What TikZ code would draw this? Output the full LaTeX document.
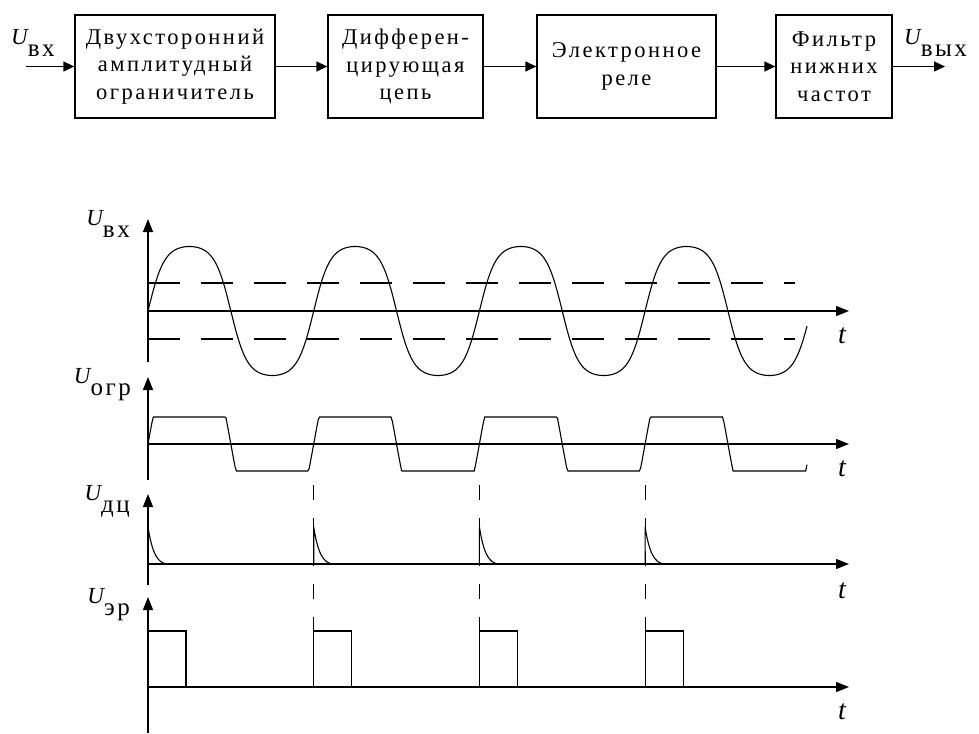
\documentclass[tikz,border=0pt]{standalone}
\usepackage{fontspec}
\setmainfont{Liberation Serif}
\newfontfamily\blkf[LetterSpace=11]{Liberation Serif}
\newfontfamily\subf[LetterSpace=10]{Liberation Serif}
\usetikzlibrary{arrows.meta}
\newcommand\Ulab[1]{{\fontsize{23}{23}\selectfont\itshape U}\raisebox{-12pt}{\subf\fontsize{25}{25}\selectfont #1}}
\begin{document}
\begin{tikzpicture}[x=1pt,y=-1pt,
  blockbox/.style={draw, line width=1.3pt, inner sep=0pt, align=center,
     font=\blkf\fontsize{22.5}{27.5}\selectfont},
  conn/.style={line width=1.3pt, -{Triangle[length=11pt,width=10pt]}},
  axis/.style={line width=1.3pt, -{Triangle[length=13pt,width=10pt]}},
  sig/.style={line width=1.1pt},
  hdash/.style={line width=1.1pt, dash pattern=on 32pt off 21pt},
  vdash/.style={line width=1.1pt, dash pattern=on 15pt off 18pt},
  tlab/.style={inner sep=0pt, font=\fontsize{28}{28}\selectfont\itshape},
  ulab/.style={inner sep=0pt},
  declare function={wv(\t)=tanh(1.5*sin((\t-148)*2.172601))/0.9051;}
]
\fill[white] (0,0) rectangle (979,733);
\useasboundingbox (0,0) rectangle (979,733);

% ---- block diagram ----
\node[blockbox, minimum width=200pt, minimum height=103pt] (b1) at (175,66.5) {Двухсторонний\\амплитудный\\ограничитель};
\node[blockbox, minimum width=155pt, minimum height=103pt] (b2) at (405.5,66.5) {Дифферен-\\цирующая\\цепь};
\node[blockbox, minimum width=179pt, minimum height=103pt] (b3) at (626.5,66.5) {Электронное\\реле};
\node[blockbox, minimum width=116pt, minimum height=103pt] (b4) at (834,66.5) {Фильтр\\нижних\\частот};
\coordinate (in) at (26,66.5);
\coordinate (out) at (945,66.5);
\draw[conn] (in) -- (b1.west);
\draw[conn] (b1.east) -- (b2.west);
\draw[conn] (b2.east) -- (b3.west);
\draw[conn] (b3.east) -- (b4.west);
\draw[conn] (b4.east) -- (out);
\node[ulab, anchor=base west] (lin) at (11,45) {\Ulab{вх}};
\node[ulab, anchor=base west] (lout) at (904,45) {\Ulab{вых}};

% ---- axes ----
\coordinate (o1) at (148,311); \coordinate (o2) at (148,444);
\coordinate (o3) at (148,564); \coordinate (o4) at (148,687);
\draw[axis] (148,362) -- (148,219);
\draw[axis] (148,480) -- (148,377);
\draw[axis] (148,585) -- (148,494);
\draw[axis] (148,733) -- (148,597);
\draw[axis] (o1) -- (849,311);
\draw[axis] (o2) -- (849,444);
\draw[axis] (o3) -- (849,564);
\draw[axis] (o4) -- (849,687);
\node[tlab] (t1) at (842,336) {t};
\node[tlab] (t2) at (842,469) {t};
\node[tlab] (t3) at (842,591) {t};
\node[tlab] (t4) at (842,712) {t};
\node[ulab, anchor=base east] (l1) at (130,225) {\Ulab{вх}};
\node[ulab, anchor=base east] (l2) at (131,383) {\Ulab{огр}};
\node[ulab, anchor=base east] (l3) at (130,500) {\Ulab{дц}};
\node[ulab, anchor=base east] (l4) at (130,603) {\Ulab{эр}};

% ---- graph 1 ----
\draw[hdash] (148,283) -- (795,283);
\draw[hdash] (148,339) -- (795,339);
\draw[sig] plot[domain=148:807, samples=500] (\x,{311-64.5*wv(\x)});

% ---- graph 2 ----
\draw[sig] plot[domain=148:807, samples=500] (\x,{444-max(-27,min(27,88*wv(\x)))});

% ---- dashed verticals ----
\foreach \a in {313.7,479.4,645.1}
  \draw[vdash] (\a,485) -- (\a,631);

% ---- graph 3 ----
\foreach \a in {148,313.7,479.4,645.1}
  \draw[sig] (\a,564) -- (\a,527) .. controls (\a+4,552) and (\a+9,563) .. (\a+19,564);

% ---- graph 4 ----
\draw[sig] (148,631) -- (186,631) -- (186,687);
\foreach \a in {313.7,479.4,645.1}
  \draw[sig] (\a,687) -- (\a,631) -- (\a+38,631) -- (\a+38,687);
\end{tikzpicture}
\end{document}
